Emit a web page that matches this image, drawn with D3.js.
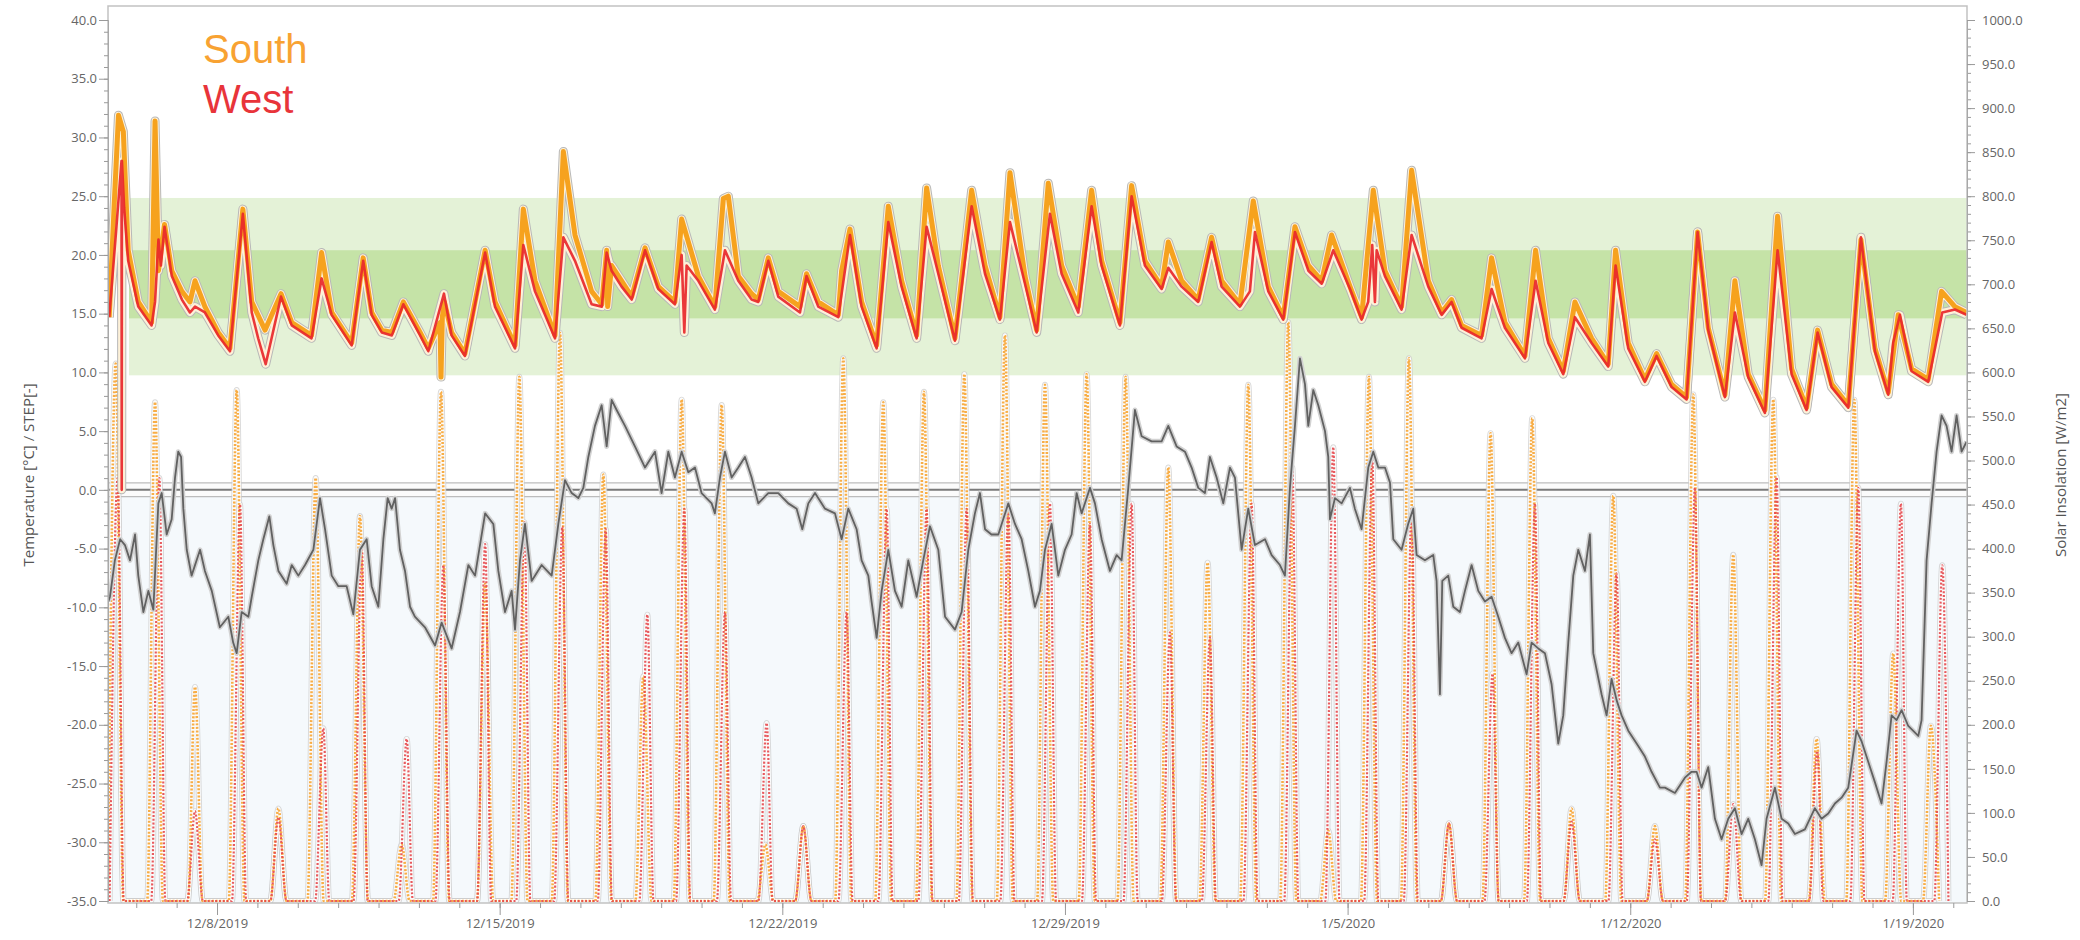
<!DOCTYPE html>
<html><head><meta charset="utf-8">
<script src="https://cdn.jsdelivr.net/npm/d3@7"></script>
<style>
html,body{margin:0;padding:0;background:#fff;}
svg text{font-family:"Open Sans","Noto Sans",sans-serif;}
</style></head><body>
<svg id="chart" width="2080" height="940"></svg>
<script>
// ---- DATA (time = days after 12/5/2019 00:00) ----
const seriesNames = ["South", "West"];
const yTicksLeft = [-35,-30,-25,-20,-15,-10,-5,0,5,10,15,20,25,30,35,40];
const yTicksRight = [0,50,100,150,200,250,300,350,400,450,500,550,600,650,700,750,800,850,900,950,1000];
const xTickDays = [3,10,17,24,31,38,45];
const comfortBands = [[9.75, 24.85], [14.6, 20.4]];
const bandStartDay = 0.82;
const stepSeries = [[0.30, 0], [46.34, 0]];

const southTemp = [[0.33,14.7],[0.45,24.0],[0.56,31.9],[0.68,30.5],[0.72,27.0],[0.80,20.4],[1.05,16.0],[1.38,14.25],[1.465,31.4],[1.55,18.65],[1.70,22.6],[1.88,18.65],[2.13,16.9],[2.33,16.0],[2.455,17.8],[2.70,15.6],[3.03,13.4],[3.32,12.05],[3.64,23.9],[3.86,16.0],[4.19,13.6],[4.585,16.7],[4.85,14.25],[5.34,13.15],[5.59,20.2],[5.84,15.1],[6.335,12.5],[6.62,19.75],[6.83,15.1],[7.08,13.6],[7.33,13.4],[7.615,16.0],[8.03,13.4],[8.233,12.05],[8.522,14.25],[8.547,9.6],[8.58,14.7],[8.63,16.0],[8.81,13.4],[9.14,11.6],[9.64,20.4],[9.884,16.0],[10.38,12.3],[10.586,23.9],[10.875,17.8],[11.37,13.15],[11.577,28.8],[11.865,21.7],[12.278,16.9],[12.53,15.8],[12.65,20.4],[12.674,15.6],[12.773,19.1],[13.02,17.8],[13.27,16.45],[13.60,20.6],[13.93,17.3],[14.34,16.0],[14.507,23.05],[14.92,18.2],[15.33,15.6],[15.539,24.8],[15.663,25.0],[15.91,18.2],[16.24,16.7],[16.405,16.2],[16.653,19.75],[16.90,16.9],[17.437,15.6],[17.60,18.4],[17.89,16.0],[18.387,14.9],[18.469,18.65],[18.676,22.2],[18.964,16.0],[19.336,12.3],[19.625,24.15],[19.955,17.8],[20.327,13.15],[20.574,25.7],[20.863,19.1],[21.276,12.9],[21.689,25.5],[22.02,19.1],[22.39,14.7],[22.638,27.0],[23.01,18.2],[23.30,13.6],[23.587,26.1],[23.917,19.1],[24.33,15.6],[24.66,25.5],[24.908,19.5],[25.362,14.25],[25.651,25.9],[25.98,19.5],[26.394,17.3],[26.559,21.1],[26.89,17.8],[27.30,16.2],[27.632,21.5],[27.88,17.8],[28.334,15.8],[28.664,24.6],[29.036,17.3],[29.407,14.7],[29.696,22.4],[30.03,19.1],[30.36,17.8],[30.604,21.7],[31.06,17.3],[31.347,14.7],[31.636,25.5],[31.925,18.65],[32.337,15.6],[32.585,27.2],[32.998,17.8],[33.33,15.1],[33.575,16.2],[33.823,14.0],[34.318,13.15],[34.566,19.75],[34.896,14.25],[35.392,11.4],[35.656,20.4],[35.97,12.9],[36.341,10.1],[36.63,16.0],[37.043,12.9],[37.455,10.7],[37.637,20.4],[37.95,12.5],[38.363,9.4],[38.652,11.6],[39.024,8.97],[39.395,7.9],[39.668,21.95],[39.932,13.8],[40.345,8.1],[40.592,17.8],[40.922,9.85],[41.335,6.8],[41.649,23.3],[41.996,10.3],[42.367,7.0],[42.64,13.6],[42.986,9.0],[43.40,7.2],[43.713,21.3],[44.06,12.05],[44.39,8.3],[44.637,14.9],[44.967,10.3],[45.38,9.4],[45.71,16.9],[46.04,15.6],[46.33,15.1]];

const westTemp = [[0.33,14.7],[0.50,22.0],[0.635,28.0],[0.64,0],[0.645,28.0],[0.70,24.0],[0.80,19.5],[1.05,15.6],[1.38,14.0],[1.465,16.0],[1.55,21.3],[1.61,19.1],[1.70,22.4],[1.88,18.2],[2.13,16.2],[2.33,15.1],[2.455,15.6],[2.70,15.1],[3.03,13.15],[3.32,11.8],[3.64,23.5],[3.86,15.1],[4.02,12.9],[4.205,10.7],[4.585,16.45],[4.85,14.0],[5.34,12.9],[5.59,18.0],[5.84,14.9],[6.335,12.3],[6.62,19.5],[6.83,14.9],[7.08,13.4],[7.33,13.15],[7.615,15.8],[8.03,13.15],[8.233,11.8],[8.621,16.7],[8.81,13.15],[9.14,11.4],[9.64,20.2],[9.884,15.6],[10.38,12.05],[10.586,20.85],[10.875,16.9],[11.37,12.9],[11.577,21.5],[11.865,19.5],[12.278,15.8],[12.53,15.6],[12.65,20.2],[12.773,18.65],[13.02,17.3],[13.27,16.2],[13.60,20.4],[13.93,17.1],[14.34,15.8],[14.507,20.0],[14.573,13.4],[14.63,19.1],[14.92,17.8],[15.33,15.35],[15.58,20.4],[15.91,17.8],[16.24,16.2],[16.405,16.0],[16.653,19.5],[16.90,16.45],[17.437,15.1],[17.60,18.2],[17.89,15.6],[18.387,14.7],[18.676,21.7],[18.964,15.6],[19.336,12.05],[19.625,22.8],[19.955,17.3],[20.327,12.9],[20.574,22.4],[20.863,18.4],[21.276,12.7],[21.689,24.15],[22.02,18.4],[22.39,14.5],[22.638,22.8],[23.01,17.55],[23.30,13.4],[23.628,23.5],[23.917,18.4],[24.33,15.1],[24.66,24.15],[24.908,19.1],[25.362,14.0],[25.651,25.0],[25.98,19.1],[26.394,17.1],[26.559,18.9],[26.89,17.3],[27.30,16.0],[27.632,21.1],[27.88,17.3],[28.334,15.6],[28.58,16.9],[28.706,21.95],[29.036,16.9],[29.407,14.5],[29.696,21.95],[30.03,18.65],[30.36,17.55],[30.645,20.4],[31.06,17.1],[31.347,14.5],[31.51,16.0],[31.61,20.85],[31.677,16.0],[31.72,20.4],[31.925,18.2],[32.337,15.35],[32.585,21.7],[32.998,17.3],[33.33,14.9],[33.575,16.0],[33.823,13.8],[34.318,12.9],[34.566,17.1],[34.896,13.8],[35.392,11.2],[35.656,17.8],[35.97,12.5],[36.341,9.85],[36.63,14.7],[37.043,12.5],[37.455,10.5],[37.637,19.1],[37.95,12.05],[38.363,9.2],[38.652,11.4],[39.024,8.75],[39.395,7.7],[39.668,21.95],[39.932,13.6],[40.345,7.9],[40.592,15.1],[40.922,9.6],[41.335,6.55],[41.649,20.4],[41.996,9.85],[42.367,6.8],[42.64,13.4],[42.986,8.75],[43.40,7.0],[43.713,21.5],[44.06,11.8],[44.39,8.1],[44.51,12.5],[44.68,14.9],[44.967,10.1],[45.38,9.2],[45.727,15.1],[46.04,15.35],[46.33,14.9]];

const outdoorTemp = [[0.31,-9.5],[0.35,-9.07],[0.47,-6.0],[0.60,-4.2],[0.72,-4.7],[0.845,-6.0],[0.97,-3.8],[1.05,-7.3],[1.176,-10.4],[1.30,-8.6],[1.423,-10.2],[1.547,-1.15],[1.63,-0.27],[1.753,-3.8],[1.877,-2.5],[1.96,1.05],[2.04,3.25],[2.11,2.8],[2.166,-1.6],[2.25,-5.1],[2.37,-7.3],[2.58,-5.1],[2.70,-6.9],[2.87,-8.6],[3.07,-11.7],[3.28,-10.8],[3.40,-13.0],[3.487,-13.9],[3.61,-10.4],[3.776,-10.8],[3.86,-9.1],[4.023,-6.0],[4.147,-4.2],[4.296,-2.25],[4.395,-4.7],[4.52,-6.9],[4.725,-8.0],[4.85,-6.4],[5.014,-7.3],[5.18,-6.4],[5.386,-5.1],[5.55,-0.7],[5.675,-3.35],[5.84,-7.3],[6.005,-8.2],[6.21,-8.2],[6.376,-10.6],[6.54,-5.1],[6.706,-4.2],[6.83,-8.2],[6.995,-9.95],[7.12,-4.2],[7.226,-0.7],[7.325,-1.6],[7.41,-0.7],[7.53,-5.1],[7.656,-6.9],[7.78,-9.95],[7.90,-10.8],[8.15,-11.7],[8.40,-13.25],[8.563,-11.3],[8.81,-13.5],[9.017,-10.4],[9.224,-6.4],[9.39,-7.3],[9.64,-2.0],[9.843,-2.9],[9.967,-6.9],[10.132,-10.4],[10.297,-8.6],[10.38,-11.9],[10.503,-6.0],[10.627,-2.9],[10.792,-7.75],[11.04,-6.4],[11.288,-7.3],[11.453,-2.9],[11.618,0.83],[11.783,-0.27],[11.948,-0.7],[12.072,0.17],[12.196,2.8],[12.36,5.45],[12.526,7.2],[12.65,3.7],[12.773,7.65],[12.897,6.8],[13.104,5.45],[13.35,3.7],[13.60,1.9],[13.847,3.25],[14.01,-0.27],[14.177,3.25],[14.34,1.05],[14.507,3.25],[14.672,1.5],[14.837,1.9],[15.0,-0.27],[15.25,-1.15],[15.33,-2.0],[15.456,1.05],[15.58,3.25],[15.745,1.05],[15.91,1.9],[16.075,2.8],[16.24,1.05],[16.405,-1.15],[16.653,-0.27],[16.90,-0.27],[17.148,-1.15],[17.355,-1.6],[17.495,-3.35],[17.644,-1.15],[17.81,-0.27],[18.057,-1.6],[18.304,-2.0],[18.469,-4.2],[18.634,-1.6],[18.84,-3.35],[18.964,-6.0],[19.13,-7.3],[19.21,-9.5],[19.336,-12.6],[19.46,-8.6],[19.625,-5.1],[19.79,-8.6],[19.955,-9.95],[20.12,-6.0],[20.327,-9.1],[20.49,-6.0],[20.657,-3.1],[20.863,-5.1],[21.03,-10.8],[21.276,-11.9],[21.44,-10.4],[21.606,-5.1],[21.77,-2.0],[21.895,-0.27],[22.02,-3.35],[22.18,-3.8],[22.35,-3.8],[22.597,-1.15],[22.762,-2.9],[22.927,-4.2],[23.092,-6.9],[23.257,-9.95],[23.38,-8.6],[23.505,-5.1],[23.67,-2.9],[23.835,-7.3],[24.0,-5.1],[24.165,-3.8],[24.289,-0.27],[24.413,-2.0],[24.62,0.17],[24.743,-1.15],[24.908,-4.2],[25.114,-6.9],[25.28,-5.55],[25.403,-6.0],[25.568,0.17],[25.733,6.8],[25.899,4.57],[26.146,4.13],[26.394,4.13],[26.559,5.45],[26.765,3.7],[26.972,3.25],[27.137,1.9],[27.302,0.17],[27.467,-0.27],[27.59,2.8],[27.756,1.05],[27.921,-1.15],[28.086,1.9],[28.21,1.05],[28.375,-5.1],[28.54,-1.6],[28.705,-4.7],[28.953,-4.2],[29.118,-5.55],[29.324,-6.4],[29.448,-7.3],[29.572,0.17],[29.696,5.45],[29.82,11.2],[29.944,9.0],[30.026,5.45],[30.15,8.5],[30.274,7.2],[30.44,5.0],[30.521,2.8],[30.563,-2.5],[30.687,-0.7],[30.852,-1.15],[31.058,0.17],[31.18,-1.6],[31.347,-3.35],[31.512,1.9],[31.636,3.25],[31.76,1.9],[31.925,1.9],[32.05,0.61],[32.131,-4.2],[32.337,-5.1],[32.50,-2.9],[32.626,-1.6],[32.709,-5.55],[32.915,-6.0],[33.122,-5.55],[33.204,-7.75],[33.287,-17.4],[33.345,-7.75],[33.493,-7.3],[33.617,-9.95],[33.782,-10.4],[33.906,-8.6],[34.071,-6.4],[34.236,-8.6],[34.401,-9.5],[34.566,-9.1],[34.731,-10.8],[34.896,-12.6],[35.06,-13.9],[35.227,-13.0],[35.433,-15.7],[35.557,-13.0],[35.722,-13.5],[35.887,-13.9],[36.052,-16.55],[36.217,-21.6],[36.341,-19.2],[36.465,-13.0],[36.589,-7.3],[36.713,-5.1],[36.878,-6.9],[37.001,-3.8],[37.084,-13.9],[37.29,-17.4],[37.414,-19.2],[37.538,-16.1],[37.662,-17.9],[37.786,-19.2],[37.951,-20.5],[38.198,-21.8],[38.363,-22.7],[38.528,-24.0],[38.735,-25.35],[38.859,-25.35],[39.106,-25.8],[39.354,-24.5],[39.519,-24.0],[39.643,-24.0],[39.767,-25.35],[39.932,-23.6],[40.097,-28.0],[40.262,-29.75],[40.427,-28.0],[40.592,-27.1],[40.757,-29.3],[40.922,-28.0],[41.087,-29.75],[41.253,-31.95],[41.376,-28.0],[41.583,-25.35],[41.748,-28.0],[41.913,-28.4],[42.078,-29.3],[42.326,-28.9],[42.573,-27.1],[42.738,-28.0],[42.904,-27.55],[43.069,-26.7],[43.234,-26.2],[43.399,-25.35],[43.605,-20.5],[43.729,-21.4],[43.894,-23.15],[44.06,-24.9],[44.224,-26.7],[44.348,-23.15],[44.472,-19.2],[44.596,-19.6],[44.72,-18.75],[44.885,-20.1],[45.133,-20.95],[45.215,-19.6],[45.339,-6.0],[45.463,-1.15],[45.587,3.25],[45.71,6.33],[45.834,5.45],[45.958,3.25],[46.082,6.33],[46.206,3.25],[46.33,4.1]];

// solar spikes: [sunrise day, peak day, sunset day, peak W/m2]
const southSun = [[0.30,0.49,0.68,610],[1.27,1.465,1.66,566],[2.28,2.455,2.64,243],[3.29,3.487,3.68,580],[4.32,4.52,4.72,105],[5.24,5.443,5.64,480],[6.34,6.54,6.74,437],[7.37,7.573,7.77,64],[8.35,8.547,8.75,578],[9.44,9.64,9.84,360],[10.29,10.487,10.69,595],[11.29,11.494,11.69,645],[12.37,12.567,12.77,484],[13.36,13.558,13.76,255],[14.31,14.507,14.71,569],[15.30,15.498,15.70,563],[16.38,16.58,16.78,64],[17.32,17.52,17.72,85],[18.31,18.51,18.71,616],[19.30,19.50,19.70,566],[20.31,20.508,20.71,578],[21.31,21.507,21.71,598],[22.31,22.514,22.71,642],[23.31,23.505,23.71,586],[24.34,24.536,24.74,598],[25.30,25.502,25.70,595],[26.36,26.559,26.76,492],[27.33,27.533,27.73,384],[28.34,28.54,28.74,586],[29.33,29.531,29.73,657],[30.32,30.52,30.72,80],[31.33,31.528,31.73,595],[32.32,32.519,32.72,616],[33.31,33.51,33.71,88],[34.34,34.541,34.74,531],[35.37,35.573,35.77,548],[36.35,36.547,36.75,105],[37.38,37.579,37.78,460],[38.41,38.61,38.81,85],[39.36,39.56,39.76,575],[40.35,40.551,40.75,393],[41.34,41.542,41.74,569],[42.42,42.615,42.82,184],[43.35,43.548,43.75,569],[44.31,44.513,44.71,281],[45.25,45.446,45.65,199]];

const westSun = [[0.34,0.54,0.69,480],[1.37,1.572,1.72,480],[2.26,2.455,2.65,102],[3.37,3.57,3.72,450],[4.32,4.52,4.72,95],[5.43,5.633,5.78,196],[6.38,6.583,6.73,405],[7.50,7.697,7.85,184],[8.41,8.605,8.76,381],[9.44,9.64,9.79,405],[10.41,10.611,10.76,430],[11.35,11.552,11.70,425],[12.43,12.625,12.78,422],[13.46,13.657,13.81,325],[14.37,14.573,14.72,445],[15.38,15.58,15.73,328],[16.41,16.612,16.76,202],[17.32,17.52,17.72,85],[18.39,18.593,18.74,328],[19.38,19.584,19.73,445],[20.37,20.574,20.72,445],[21.37,21.565,21.72,445],[22.40,22.597,22.75,445],[23.43,23.628,23.78,451],[24.42,24.619,24.77,428],[25.45,25.651,25.80,451],[26.40,26.60,26.75,305],[27.39,27.59,27.74,299],[28.42,28.623,28.77,451],[29.43,29.63,29.78,492],[30.45,30.645,30.80,515],[31.41,31.61,31.76,504],[32.39,32.585,32.74,445],[33.31,33.51,33.71,88],[34.39,34.59,34.74,258],[35.44,35.64,35.79,451],[36.35,36.547,36.75,90],[37.46,37.662,37.81,372],[38.41,38.61,38.81,70],[39.40,39.602,39.75,469],[40.35,40.551,40.75,110],[41.42,41.624,41.77,481],[42.43,42.631,42.78,170],[43.45,43.647,43.80,469],[44.50,44.703,44.85,451],[45.53,45.727,45.88,381]];

// ---- CHART ----
const L = 108, R = 1967, TOP = 6, BOT = 903;
const T0 = Date.UTC(2019, 11, 5);
const t = d => new Date(T0 + d * 864e5);
const x = d3.scaleUtc().domain([t(0.30), t(46.34)]).range([L, R]);
const yT = d3.scaleLinear().domain([-35, 40]).range([901, 20]);
const yS = d3.scaleLinear().domain([0, 1000]).range([901, 20]);

const svg = d3.select("#chart");
svg.append("defs").append("clipPath").attr("id", "clip")
  .append("rect").attr("x", L).attr("y", TOP).attr("width", R - L).attr("height", BOT - TOP);

const plot = svg.append("g").attr("clip-path", "url(#clip)");
plot.append("rect").attr("x", L).attr("y", TOP).attr("width", R - L).attr("height", BOT - TOP).attr("fill", "#fff");
plot.append("rect").attr("x", L).attr("y", yT(0)).attr("width", R - L).attr("height", yT(-35) - yT(0) + 3).attr("fill", "#f5f9fc");

const bandColors = ["#e4f2d7", "#c5e3a7"];
comfortBands.forEach((b, i) => {
  plot.append("rect").attr("x", x(t(bandStartDay))).attr("y", yT(b[1]))
    .attr("width", R - x(t(bandStartDay))).attr("height", yT(b[0]) - yT(b[1]))
    .attr("fill", bandColors[i]);
});

const lineT = d3.line().x(p => x(t(p[0]))).y(p => yT(p[1]));
const lineS = d3.line().curve(d3.curveMonotoneX).x(p => x(t(p[0]))).y(p => yS(p[1]));
const spikePts = arr => arr.flatMap(s => [[s[0], 0], [s[1], s[3]], [s[2], 0]]);

// STEP series at 0 with halo
plot.append("path").attr("d", lineT(stepSeries)).attr("fill", "none").attr("stroke", "#bcbcbc").attr("stroke-width", 15);
plot.append("path").attr("d", lineT(stepSeries)).attr("fill", "none").attr("stroke", "#fbfbfb").attr("stroke-width", 12.5);
plot.append("path").attr("d", lineT(stepSeries)).attr("fill", "none").attr("stroke", "#7a7a7a").attr("stroke-width", 2);

// solar
[southSun, westSun].forEach(s => {
  plot.append("path").attr("d", lineS(spikePts(s))).attr("fill", "none")
    .attr("stroke", "#c9c9c9").attr("stroke-width", 6).attr("stroke-linejoin", "round").attr("opacity", 0.7);
});
[southSun, westSun].forEach(s => {
  plot.append("path").attr("d", lineS(spikePts(s))).attr("fill", "none")
    .attr("stroke", "#ffffff").attr("stroke-width", 4.2).attr("stroke-linejoin", "round").attr("opacity", 0.9);
});
plot.append("path").attr("d", lineS(spikePts(southSun))).attr("fill", "none")
  .attr("stroke", "#f8ad45").attr("stroke-width", 2.6).attr("stroke-dasharray", "2,1.6");
plot.append("path").attr("d", lineS(spikePts(westSun))).attr("fill", "none")
  .attr("stroke", "#e5484c").attr("stroke-width", 2.2).attr("stroke-dasharray", "2,1.8").attr("opacity", 0.9);

// outdoor temperature
plot.append("path").attr("d", lineT(outdoorTemp)).attr("fill", "none").attr("stroke", "#d2d2d2").attr("stroke-width", 5).attr("stroke-linejoin", "round");
plot.append("path").attr("d", lineT(outdoorTemp)).attr("fill", "none").attr("stroke", "#616161").attr("stroke-width", 1.8).attr("stroke-linejoin", "round");

// room temperatures with halos
[southTemp, westTemp].forEach(s => {
  plot.append("path").attr("d", lineT(s)).attr("fill", "none").attr("stroke", "#b8b8b8").attr("stroke-width", 9).attr("stroke-linejoin", "round");
});
[southTemp, westTemp].forEach(s => {
  plot.append("path").attr("d", lineT(s)).attr("fill", "none").attr("stroke", "#fdf1d8").attr("stroke-width", 7).attr("stroke-linejoin", "round");
});
plot.append("path").attr("d", lineT(southTemp)).attr("fill", "none").attr("stroke", "#f6a21e").attr("stroke-width", 5).attr("stroke-linejoin", "round");
plot.append("path").attr("d", lineT(westTemp)).attr("fill", "none").attr("stroke", "#e8272b").attr("stroke-width", 2.6).attr("stroke-linejoin", "round").attr("opacity", 0.92);

// frame
svg.append("rect").attr("x", L).attr("y", TOP).attr("width", R - L).attr("height", BOT - TOP)
  .attr("fill", "none").attr("stroke", "#c2c2c2").attr("stroke-width", 1.5);

function styleAxis(g) {
  g.selectAll(".domain").attr("stroke", "#a8a8a8");
  g.selectAll(".tick line").attr("stroke", "#9a9a9a");
  g.selectAll("text").attr("fill", "#666").style("font-size", "13px");
}
svg.append("g").attr("transform", `translate(${L},0)`)
  .call(d3.axisLeft(yT).tickValues(d3.range(-35, 40.5, 1)).tickSize(4).tickFormat(""))
  .call(styleAxis);
svg.append("g").attr("transform", `translate(${L},0)`)
  .call(d3.axisLeft(yT).tickValues(yTicksLeft).tickSize(9).tickPadding(2).tickFormat(d => d.toFixed(1)))
  .call(styleAxis);
svg.append("g").attr("transform", `translate(${R},0)`)
  .call(d3.axisRight(yS).tickValues(d3.range(0, 1001, 10)).tickSize(4).tickFormat(""))
  .call(styleAxis);
svg.append("g").attr("transform", `translate(${R},0)`)
  .call(d3.axisRight(yS).tickValues(yTicksRight).tickSize(8).tickPadding(7).tickFormat(d => d.toFixed(1)))
  .call(styleAxis);
svg.append("g").attr("transform", `translate(0,${BOT})`)
  .call(d3.axisBottom(x).tickValues(d3.range(1, 47).map(t)).tickSize(5).tickFormat(""))
  .call(styleAxis).call(g => g.select(".domain").remove());
svg.append("g").attr("transform", `translate(0,${BOT})`)
  .call(d3.axisBottom(x).tickValues(xTickDays.map(t)).tickSize(12).tickPadding(4).tickFormat(d3.utcFormat("%-m/%-d/%Y")))
  .call(styleAxis).call(g => g.select(".domain").remove());

svg.append("text").attr("transform", "translate(28,475) rotate(-90)").attr("text-anchor", "middle")
  .attr("dominant-baseline", "central").attr("fill", "#555").style("font-size", "15px")
  .text("Temperature [°C] / STEP[-]");
svg.append("text").attr("transform", "translate(2060,475) rotate(-90)").attr("text-anchor", "middle")
  .attr("dominant-baseline", "central").attr("fill", "#555").style("font-size", "15px")
  .text("Solar Insolation [W/m2]");

const legendColors = ["#f8a232", "#e8343a"];
seriesNames.forEach((n, i) => {
  svg.append("text").attr("x", 203).attr("y", 63 + i * 50)
    .attr("fill", legendColors[i]).style("font-family", "'Liberation Sans', Arial, sans-serif")
    .style("font-size", "40px").text(n);
});
</script>
</body></html>
